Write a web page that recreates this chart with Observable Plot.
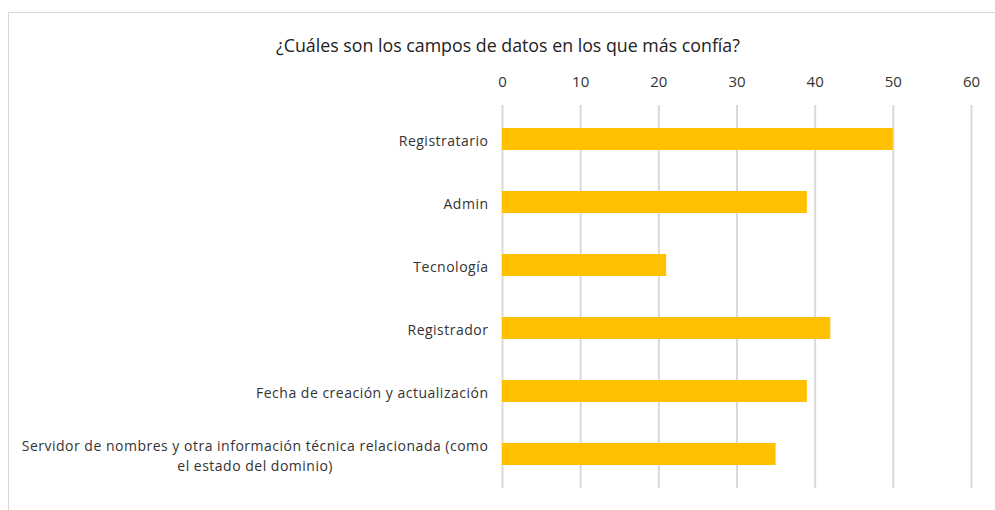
<!DOCTYPE html>
<html>
<head>
<meta charset="utf-8">
<script src="https://cdn.jsdelivr.net/npm/d3@7"></script>
<script src="https://cdn.jsdelivr.net/npm/@observablehq/plot@0.6"></script>
<style>
  html, body { margin: 0; padding: 0; background: #fff; overflow: hidden; }
  #wrap { position: relative; width: 995px; height: 510px; overflow: hidden; font-family: "Open Sans", sans-serif; }
  #frame { position: absolute; left: 8px; top: 12px; width: 1000px; height: 520px; border: 1px solid #d9d9d9; box-sizing: border-box; }
  #title { position: absolute; left: 0; top: 33px; width: 1016px; text-align: center; font-size: 17.8px; color: #222; }
  #chart { position: absolute; left: 0; top: 0; }
</style>
</head>
<body>
<div id="wrap">
  <div id="frame"></div>
  <div id="chart"></div>
  <div id="title">¿Cuáles son los campos de datos en los que más confía?</div>
</div>
<script>
const categories = [
  "Registratario",
  "Admin",
  "Tecnología",
  "Registrador",
  "Fecha de creación y actualización",
  "Servidor de nombres y otra información técnica relacionada (como\nel estado del dominio)"
];
const values = [50, 39, 21, 42, 39, 35];
const xTicks = [0, 10, 20, 30, 40, 50, 60];

const data = categories.map((c, i) => ({category: c, value: values[i]}));

const chart = Plot.plot({
  width: 995,
  height: 510,
  marginLeft: 502,
  marginRight: 24,
  marginTop: 105,
  marginBottom: 22,
  style: {fontFamily: "Open Sans, sans-serif", background: "transparent", color: "#333"},
  x: {domain: [0, 60]},
  y: {domain: categories, paddingInner: 0.655, paddingOuter: 0.3275},
  marks: [
    Plot.ruleX(xTicks, {stroke: "#d9d9d9", strokeWidth: 2}),
    Plot.barX(data, {x: "value", y: "category", fill: "#FFC000"}),
    Plot.axisX({ticks: xTicks, anchor: "top", tickSize: 0, tickPadding: 19, fontSize: 15, label: null}),
    Plot.axisY({anchor: "left", tickSize: 0, tickPadding: 14, fontSize: 14, lineHeight: 1.4, label: null, lineWidth: 200})
  ]
});
document.getElementById("chart").appendChild(chart);

d3.select(chart).selectAll("g[aria-label='y-axis tick label'] text")
  .style("letter-spacing", "0.5px");

// center multi-line y tick labels within their own width, like the reference
d3.select(chart).selectAll("g[aria-label='y-axis tick label'] text").each(function() {
  const t = d3.select(this);
  const tspans = t.selectAll("tspan");
  if (tspans.size() > 1) {
    const w = this.getBBox().width;
    t.attr("text-anchor", "middle");
    tspans.attr("x", -w / 2);
  }
});
</script>
</body>
</html>
